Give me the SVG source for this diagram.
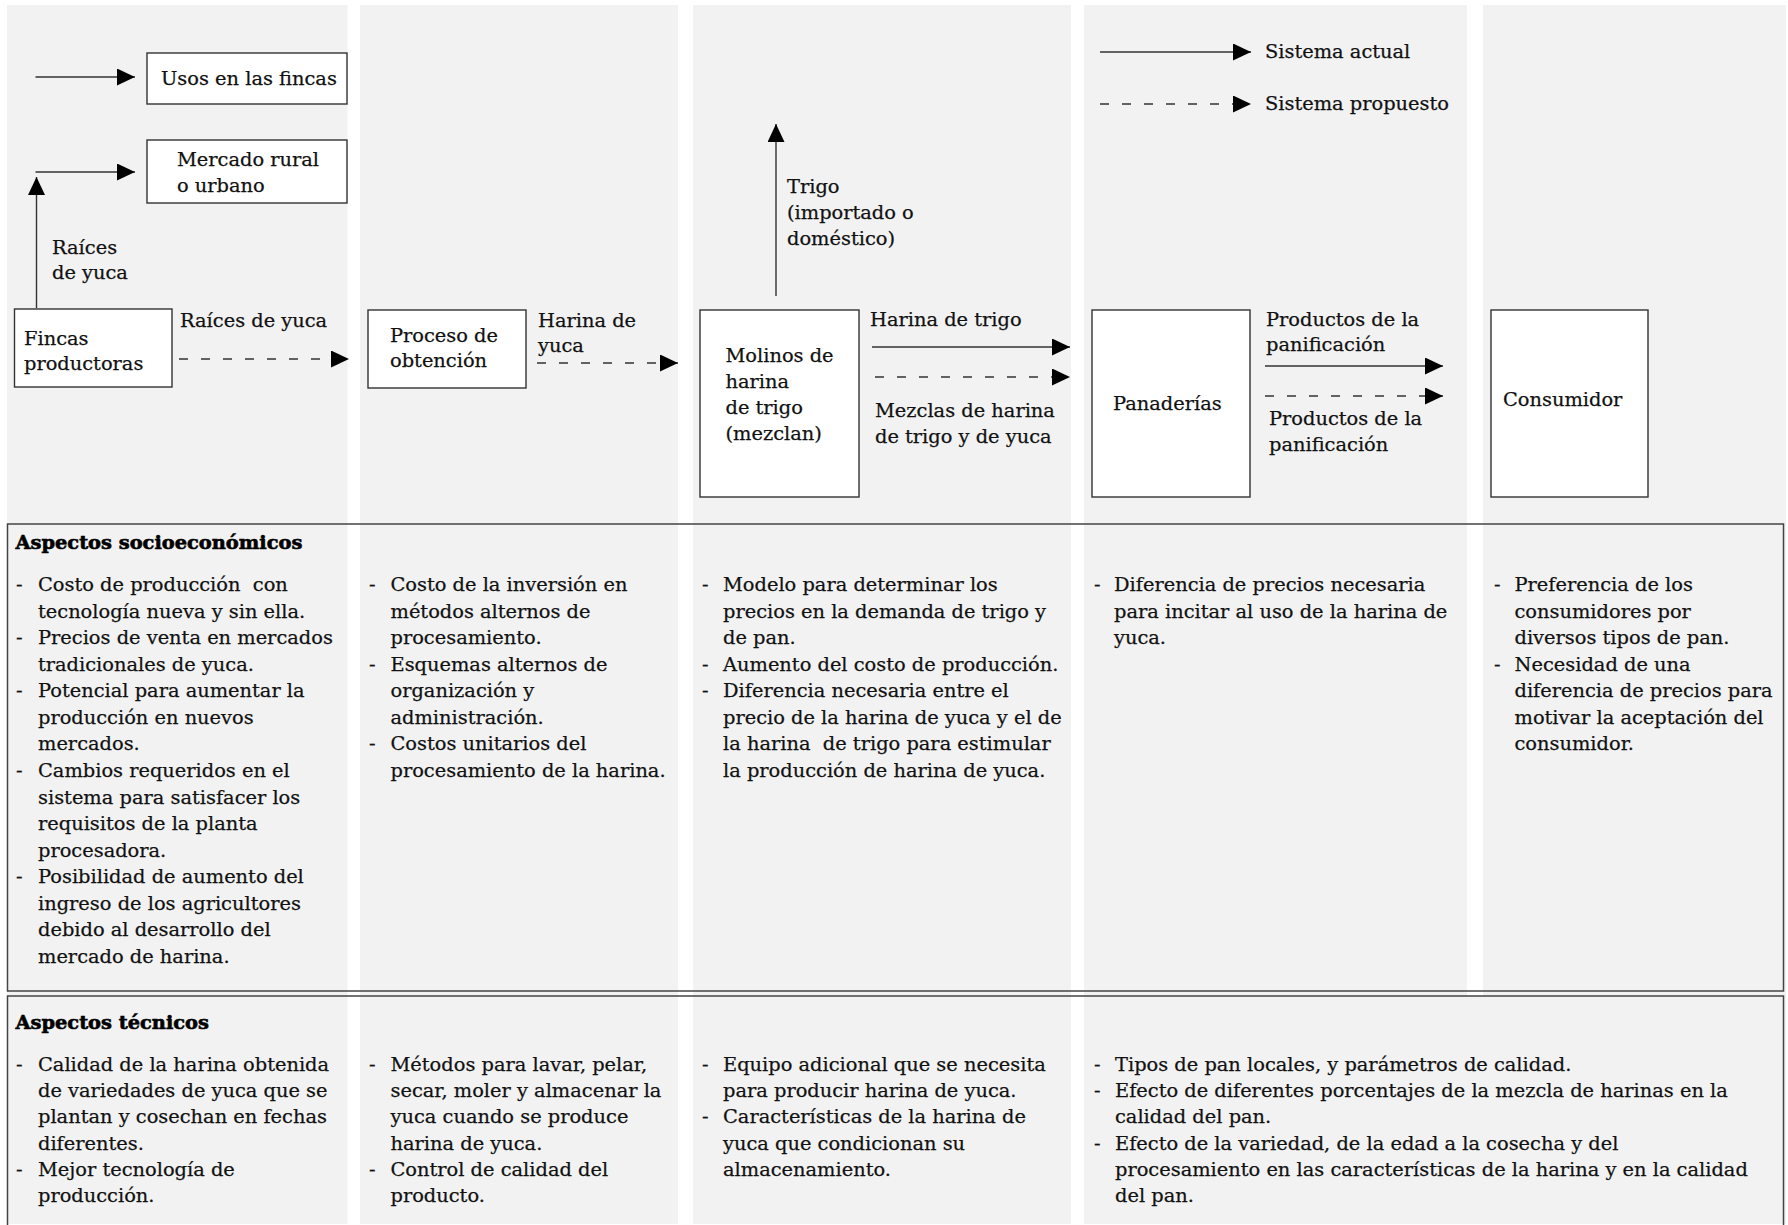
<svg xmlns="http://www.w3.org/2000/svg" width="1788" height="1225" viewBox="0 0 1788 1225">
<defs>
<style>
.bg{fill:#f2f2f2}
.node{fill:#fff;stroke:#333;stroke-width:1.4}
.sec{fill:none;stroke:#444;stroke-width:1.5}
.t{font-family:"DejaVu Serif","Liberation Serif",serif;font-size:19.4px;fill:#111;stroke:#111;stroke-width:0.25}
.h{font-family:"DejaVu Serif","Liberation Serif",serif;font-size:19.4px;font-weight:bold;fill:#000;stroke:#000;stroke-width:0.6}
.ln{stroke:#333;stroke-width:1.4;fill:none;marker-end:url(#ah)}
.ds{stroke-dasharray:9 13}
</style>
<marker id="ah" markerWidth="18" markerHeight="17" refX="18" refY="8.5" orient="auto" markerUnits="userSpaceOnUse">
<path d="M0,0 L18,8.5 L0,17 Z" fill="#000"/>
</marker>
</defs>
<rect width="1788" height="1225" fill="#fff"/>
<g id="columns">
<rect class="bg" x="7" y="5" width="340.5" height="1219"/>
<rect class="bg" x="360" y="5" width="318" height="1219"/>
<rect class="bg" x="693" y="5" width="378" height="1219"/>
<rect class="bg" x="1084" y="5" width="383" height="1219"/>
<rect class="bg" x="1483" y="5" width="303" height="1219"/>
<rect class="bg" x="1466" y="996" width="18" height="228"/>
</g>
<g id="connectors">
<line class="ln" x1="35.5" y1="77" x2="135" y2="77"/>
<line class="ln" x1="35.5" y1="172" x2="135" y2="172"/>
<line class="ln" x1="36.5" y1="308" x2="36.5" y2="177"/>
<line class="ln ds" x1="179" y1="359" x2="349" y2="359"/>
<line class="ln ds" x1="537" y1="363" x2="678" y2="363"/>
<line class="ln" x1="776" y1="296" x2="776" y2="124"/>
<line class="ln" x1="872" y1="347" x2="1070" y2="347"/>
<line class="ln ds" x1="875" y1="377" x2="1070" y2="377"/>
<line class="ln" x1="1265" y1="366" x2="1443" y2="366"/>
<line class="ln ds" x1="1265" y1="396" x2="1443" y2="396"/>
<line class="ln" x1="1100" y1="52" x2="1251" y2="52"/>
<line class="ln ds" x1="1100" y1="104" x2="1251" y2="104"/>
<text class="t" x="52" y="254">Raíces</text>
<text class="t" x="52" y="279">de yuca</text>
<text class="t" x="180" y="327">Raíces de yuca</text>
<text class="t" x="538" y="327">Harina de</text>
<text class="t" x="538" y="352">yuca</text>
<text class="t" x="787" y="193">Trigo</text>
<text class="t" x="787" y="219">(importado o</text>
<text class="t" x="787" y="245">doméstico)</text>
<text class="t" x="870" y="326">Harina de trigo</text>
<text class="t" x="875" y="417">Mezclas de harina</text>
<text class="t" x="875" y="443">de trigo y de yuca</text>
<text class="t" x="1266" y="326">Productos de la</text>
<text class="t" x="1266" y="351">panificación</text>
<text class="t" x="1269" y="425">Productos de la</text>
<text class="t" x="1269" y="451">panificación</text>
<text class="t" x="1265" y="58">Sistema actual</text>
<text class="t" x="1265" y="110">Sistema propuesto</text>
</g>
<g id="n-usos">
<rect class="node" x="147" y="53" width="200" height="51"/>
<text class="t" x="161" y="85">Usos en las fincas</text>
</g>
<g id="n-mercado">
<rect class="node" x="147" y="140" width="200" height="63"/>
<text class="t" x="177" y="166">Mercado rural</text>
<text class="t" x="177" y="192">o urbano</text>
</g>
<g id="n-fincas">
<rect class="node" x="14.5" y="309" width="157.5" height="78"/>
<text class="t" x="24" y="345">Fincas</text>
<text class="t" x="24" y="370">productoras</text>
</g>
<g id="n-proceso">
<rect class="node" x="368" y="310" width="158" height="78"/>
<text class="t" x="390" y="342">Proceso de</text>
<text class="t" x="390" y="367">obtención</text>
</g>
<g id="n-molinos">
<rect class="node" x="700" y="310" width="159" height="187"/>
<text class="t" x="725.5" y="362">Molinos de</text>
<text class="t" x="725.5" y="388">harina</text>
<text class="t" x="725.5" y="414">de trigo</text>
<text class="t" x="725.5" y="440">(mezclan)</text>
</g>
<g id="n-panaderias">
<rect class="node" x="1092" y="310" width="158" height="187"/>
<text class="t" x="1113" y="410">Panaderías</text>
</g>
<g id="n-consumidor">
<rect class="node" x="1491" y="310" width="157" height="187"/>
<text class="t" x="1503" y="406">Consumidor</text>
</g>
<g id="sec-socio">
<rect class="sec" x="7.5" y="524" width="1776" height="467"/>
<text class="h" x="15.5" y="549">Aspectos socioeconómicos</text>
<text class="t" x="16" y="591">-</text>
<text class="t" x="38" y="591" xml:space="preserve">Costo de producción  con</text>
<text class="t" x="38" y="617.6">tecnología nueva y sin ella.</text>
<text class="t" x="16" y="644.1">-</text>
<text class="t" x="38" y="644.1">Precios de venta en mercados</text>
<text class="t" x="38" y="670.7">tradicionales de yuca.</text>
<text class="t" x="16" y="697.3">-</text>
<text class="t" x="38" y="697.3">Potencial para aumentar la</text>
<text class="t" x="38" y="723.9">producción en nuevos</text>
<text class="t" x="38" y="750.4">mercados.</text>
<text class="t" x="16" y="777">-</text>
<text class="t" x="38" y="777">Cambios requeridos en el</text>
<text class="t" x="38" y="803.6">sistema para satisfacer los</text>
<text class="t" x="38" y="830.1">requisitos de la planta</text>
<text class="t" x="38" y="856.7">procesadora.</text>
<text class="t" x="16" y="883.3">-</text>
<text class="t" x="38" y="883.3">Posibilidad de aumento del</text>
<text class="t" x="38" y="909.8">ingreso de los agricultores</text>
<text class="t" x="38" y="936.4">debido al desarrollo del</text>
<text class="t" x="38" y="963">mercado de harina.</text>

<text class="t" x="369" y="591">-</text>
<text class="t" x="390.5" y="591">Costo de la inversión en</text>
<text class="t" x="390.5" y="617.6">métodos alternos de</text>
<text class="t" x="390.5" y="644.1">procesamiento.</text>
<text class="t" x="369" y="670.7">-</text>
<text class="t" x="390.5" y="670.7">Esquemas alternos de</text>
<text class="t" x="390.5" y="697.3">organización y</text>
<text class="t" x="390.5" y="723.9">administración.</text>
<text class="t" x="369" y="750.4">-</text>
<text class="t" x="390.5" y="750.4">Costos unitarios del</text>
<text class="t" x="390.5" y="777">procesamiento de la harina.</text>

<text class="t" x="702" y="591">-</text>
<text class="t" x="723" y="591">Modelo para determinar los</text>
<text class="t" x="723" y="617.6">precios en la demanda de trigo y</text>
<text class="t" x="723" y="644.1">de pan.</text>
<text class="t" x="702" y="670.7">-</text>
<text class="t" x="723" y="670.7">Aumento del costo de producción.</text>
<text class="t" x="702" y="697.3">-</text>
<text class="t" x="723" y="697.3">Diferencia necesaria entre el</text>
<text class="t" x="723" y="723.9">precio de la harina de yuca y el de</text>
<text class="t" x="723" y="750.4" xml:space="preserve">la harina  de trigo para estimular</text>
<text class="t" x="723" y="777">la producción de harina de yuca.</text>

<text class="t" x="1094" y="591">-</text>
<text class="t" x="1114" y="591">Diferencia de precios necesaria</text>
<text class="t" x="1114" y="617.6">para incitar al uso de la harina de</text>
<text class="t" x="1114" y="644.1">yuca.</text>

<text class="t" x="1494" y="591">-</text>
<text class="t" x="1514.5" y="591">Preferencia de los</text>
<text class="t" x="1514.5" y="617.6">consumidores por</text>
<text class="t" x="1514.5" y="644.1">diversos tipos de pan.</text>
<text class="t" x="1494" y="670.7">-</text>
<text class="t" x="1514.5" y="670.7">Necesidad de una</text>
<text class="t" x="1514.5" y="697.3">diferencia de precios para</text>
<text class="t" x="1514.5" y="723.9">motivar la aceptación del</text>
<text class="t" x="1514.5" y="750.4">consumidor.</text>
</g>
<g id="sec-tecnico">
<rect class="sec" x="7.5" y="996" width="1776" height="240"/>
<text class="h" x="15.5" y="1029">Aspectos técnicos</text>
<text class="t" x="16" y="1071">-</text>
<text class="t" x="38" y="1071">Calidad de la harina obtenida</text>
<text class="t" x="38" y="1097.2">de variedades de yuca que se</text>
<text class="t" x="38" y="1123.4">plantan y cosechan en fechas</text>
<text class="t" x="38" y="1149.6">diferentes.</text>
<text class="t" x="16" y="1175.8">-</text>
<text class="t" x="38" y="1175.8">Mejor tecnología de</text>
<text class="t" x="38" y="1202">producción.</text>

<text class="t" x="369" y="1071">-</text>
<text class="t" x="390.5" y="1071">Métodos para lavar, pelar,</text>
<text class="t" x="390.5" y="1097.2">secar, moler y almacenar la</text>
<text class="t" x="390.5" y="1123.4">yuca cuando se produce</text>
<text class="t" x="390.5" y="1149.6">harina de yuca.</text>
<text class="t" x="369" y="1175.8">-</text>
<text class="t" x="390.5" y="1175.8">Control de calidad del</text>
<text class="t" x="390.5" y="1202">producto.</text>

<text class="t" x="702" y="1071">-</text>
<text class="t" x="723" y="1071">Equipo adicional que se necesita</text>
<text class="t" x="723" y="1097.2">para producir harina de yuca.</text>
<text class="t" x="702" y="1123.4">-</text>
<text class="t" x="723" y="1123.4">Características de la harina de</text>
<text class="t" x="723" y="1149.6">yuca que condicionan su</text>
<text class="t" x="723" y="1175.8">almacenamiento.</text>

<text class="t" x="1094" y="1071">-</text>
<text class="t" x="1115" y="1071">Tipos de pan locales, y parámetros de calidad.</text>
<text class="t" x="1094" y="1097.2">-</text>
<text class="t" x="1115" y="1097.2">Efecto de diferentes porcentajes de la mezcla de harinas en la</text>
<text class="t" x="1115" y="1123.4">calidad del pan.</text>
<text class="t" x="1094" y="1149.6">-</text>
<text class="t" x="1115" y="1149.6">Efecto de la variedad, de la edad a la cosecha y del</text>
<text class="t" x="1115" y="1175.8">procesamiento en las características de la harina y en la calidad</text>
<text class="t" x="1115" y="1202">del pan.</text>
</g>
</svg>
